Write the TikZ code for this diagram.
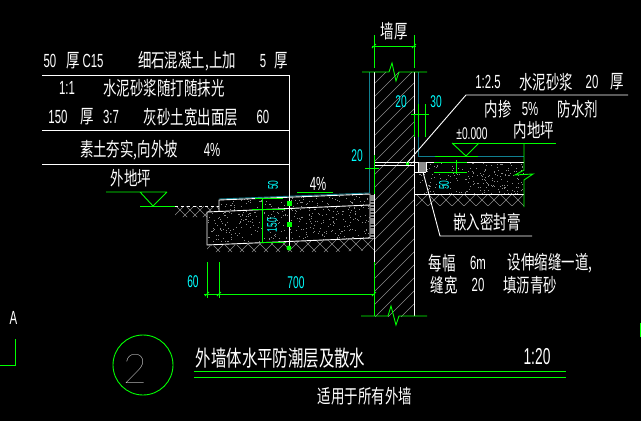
\documentclass[tikz,border=0pt]{standalone}
\usepackage{fontspec}
\setmainfont{Liberation Sans}
\newfontfamily\cjkf[FakeStretch=0.7]{Noto Sans CJK SC}
\newfontfamily\latf[FakeStretch=0.6]{Liberation Sans}
\newfontfamily\twof[UprightFont=* Thin]{Lato}
\definecolor{cadg}{RGB}{0,255,0}
\definecolor{cadt}{RGB}{16,128,144}
\definecolor{cadc}{RGB}{0,255,255}
\definecolor{cadh}{RGB}{140,140,140}
\newcommand\cn[1]{{\cjkf\fontsize{19.2}{19.2}\selectfont #1}}
\newcommand\cnt[1]{{\cjkf\fontsize{22}{22}\selectfont #1}}
\newcommand\la[1]{{\latf\fontsize{19}{19}\selectfont #1}}
\newcommand\ldim[1]{{\latf\fontsize{17}{17}\selectfont #1}}
\newcommand\lrot[1]{{\latf\fontsize{14}{14}\selectfont #1}}
\newcommand\myspeck[5]{%
  \foreach \i in {1,...,#5}{%
    \pgfmathsetmacro\px{#1+#3*rnd}%
    \pgfmathsetmacro\py{#2+#4*rnd}%
    \fill[specks] (\px,\py) rectangle +(1,1);}}
\newcommand\myhatch[3]{%
  \foreach \i in {#1,#2,...,#3}{\draw[hatchl] (\i,0) -- ++(-420,420);}}
\newcommand\myzig[4]{%
  \foreach \i in {#1,#2,...,#3}{\draw[hatchl] (\i,#4) -- ++(-20,20); \draw[hatchl] (\i,#4) -- ++(20,20);}}
\tikzset{
  wt/.style={text=white,inner sep=0pt},
  cy/.style={text=cadc,inner sep=0pt},
  gl/.style={draw=cadg,line width=0.9pt},
  wl/.style={draw=white,line width=0.9pt},
  tl/.style={draw=cadt,line width=0.9pt},
  hatchl/.style={draw=cadh,line width=0.4pt},
  specks/.style={fill=cadh},
}
\begin{document}
\begin{tikzpicture}[x=1pt,y=-1pt]
\fill[black] (0,0) rectangle (641,421);
\useasboundingbox (0,0) rectangle (641,421);
\pgfmathsetseed{42}
% wall hatching
\begin{scope}
\clip (374,72) rectangle (414,316);
\myhatch{380}{393}{900}
\end{scope}
% ground hatching
\begin{scope}
\clip (207,246) -- (370,238) -- (374,238) -- (374,250) -- (207,258) -- cycle;
\myzig{200}{212}{380}{232}
\end{scope}
\begin{scope}
\clip (175,206) -- (219,206) -- (219,211) -- (207,212) -- (207,217) -- (175,217) -- cycle;
\myzig{170}{180}{230}{200}
\end{scope}
\begin{scope}
\clip (415,195) rectangle (524,205);
\myzig{410}{422}{530}{188}
\end{scope}
% speckled concrete
\begin{scope}
\clip (219,200) -- (370,194) -- (370,238) -- (207,245) -- (207,212) -- (219,211) -- cycle;
\myspeck{207}{194}{163}{52}{480}
\end{scope}
\begin{scope}
\clip (419,162) rectangle (524,194);
\myspeck{419}{162}{105}{32}{220}
\end{scope}
% apron outline
\draw[tl] (219,199) -- (369,193);
\draw[wl] (219,211) -- (219,200) -- (370,194) -- (370,238) -- (207,245) -- (207,212) -- (370,205);
\draw[line width=4pt,draw=cadh,dash pattern=on 2.5pt off 0.8pt] (372,195) -- (372,238);
% wall
\draw[tl] (369,72) -- (369,193);
\draw[tl] (418,72) -- (418,156) -- (524,156);
\draw[wl] (374,72) -- (374,316);
\draw[wl] (414,72) -- (414,316);
\draw[gl] (362,72) -- (389,72) -- (392,63) -- (396,81) -- (399,72) -- (427,72);
\draw[gl] (361,316) -- (388,316) -- (391,306) -- (396,325) -- (399,316) -- (427,316);
% wall thickness dimension
\draw[gl] (374,35) -- (374,68) (414,35) -- (414,68) (372,46) -- (416,46);
\draw[gl] (372,48) -- (376,44) (412,48) -- (416,44);
% floor slab
\draw[wl] (415,162) -- (524,162) (415,194) -- (524,194);
\fill[cadh] (418,162) rectangle (426,172);
\draw[wl] (374,162) -- (415,162) (374,165) -- (414,165) (414,172) -- (426,172) (418,162) -- (418,172) (426,162) -- (426,172);
\fill[cadg] (405.5,161.5) rectangle (409,165);
% floor level and dims
\draw[gl] (452,143) -- (556,143);
\draw[gl] (452,143) -- (466,156) -- (479,143);
\draw[gl] (435,156) -- (478,156);
\draw[gl] (524,143) -- (524,170) -- (515,175) -- (533,174) -- (524,180) -- (524,207);
\draw[gl] (434,162) -- (467,162) (434,172) -- (467,172) (456,160) -- (456,174);
\draw[gl] (411,114) -- (429,114) (418,104) -- (418,137) (425,104) -- (425,137) (414,114) -- (414,137);
\draw[gl] (374,155) -- (374,194) (365,168) -- (379,168);
% leaders
\draw[wl] (628,95) -- (466,95) -- (407,163);
\draw[wl] (423,172) -- (440,236) -- (532,236);
% left table
\draw[wl] (42,75) -- (289,75) (42,130) -- (289,130) (42,164) -- (289,164);
\draw[wl] (289,75) -- (289,248);
\fill[cadg] (286.5,201) rectangle (291.5,206);
\fill[cadg] (286.5,222) rectangle (291.5,227);
\fill[cadg] (289,248) circle (2.5);
% outside level
\draw[gl] (106,192) -- (167,192) (140,192) -- (153,206) -- (167,192);
\draw[gl] (140,206) -- (175,206);
\draw[wl,dashed] (175,206) -- (219,206);
% apron dims
\draw[gl] (262,198) -- (262,243) (255,198) -- (283,198) (252,209) -- (285,209) (260,242) -- (285,242);
\draw[gl] (297,192) -- (333,192);
\draw[gl] (204,294) -- (374,294) (207,262) -- (207,298) (219,262) -- (219,298) (374,262) -- (374,316);
\draw[gl] (205,296) -- (209,292) (217,296) -- (221,292) (372,296) -- (376,292);
% symbol
\draw[gl] (143,365) circle (30);
\draw[gl] (15.5,339) -- (15.5,365) -- (0,365);
\draw[gl] (194,371) -- (566,371) (194,377) -- (566,377);
\draw[draw=cadg,line width=1.5pt] (640.5,323) -- (640.5,337);
% left texts
\node[wt] (a1) at (50,61) {\la{50}};
\node[wt] (a2) at (73,61) {\cn{厚}};
\node[wt] (a3) at (93,61) {\la{C15}};
\node[wt] (a4) at (187,61) {\cn{细石混凝土,上加}};
\node[wt] (a5) at (263,61) {\la{5}};
\node[wt] (a6) at (281,61) {\cn{厚}};
\node[wt] (b1) at (67,88) {\la{1:1}};
\node[wt] (b2) at (164,88) {\cn{水泥砂浆随打随抹光}};
\node[wt] (c1) at (58,117) {\la{150}};
\node[wt] (c2) at (87,117) {\cn{厚}};
\node[wt] (c3) at (111,117) {\la{3:7}};
\node[wt] (c4) at (191,117) {\cn{灰砂土宽出面层}};
\node[wt] (c5) at (263,117) {\la{60}};
\node[wt] (d1) at (129,150) {\cn{素土夯实,向外坡}};
\node[wt] (d2) at (212,150) {\la{4\%}};
\node[wt] (e1) at (131,178) {\cn{外地坪}};
% wall top
\node[wt] (f1) at (394,31) {\cn{墙厚}};
\node[cy] (f2) at (401,102) {\ldim{20}};
\node[cy] (f3) at (436,102) {\ldim{30}};
\node[cy] (f4) at (357,156) {\ldim{20}};
% right texts
\node[wt] (g1) at (488,82) {\la{1:2.5}};
\node[wt] (g2) at (546,82) {\cn{水泥砂浆}};
\node[wt] (g3) at (592,82) {\la{20}};
\node[wt] (g4) at (617,82) {\cn{厚}};
\node[wt] (h1) at (498,109) {\cn{内掺}};
\node[wt] (h2) at (530,109) {\la{5\%}};
\node[wt] (h3) at (578,109) {\cn{防水剂}};
\node[wt] (i1) at (534,130) {\cn{内地坪}};
\node[wt] (i2) at (472,134) {\ldim{±0.000}};
\node[wt] (i3) at (487,222) {\cn{嵌入密封膏}};
\node[cy,rotate=90] (i4) at (444,185) {\lrot{50}};
% apron texts
\node[cy,rotate=90] (j1) at (273,185) {\lrot{50}};
\node[cy,rotate=90] (j2) at (272,225) {\lrot{150}};
\node[wt] (j3) at (318,184) {\la{4\%}};
\node[cy] (j4) at (193,282) {\ldim{60}};
\node[cy] (j5) at (296,283) {\ldim{700}};
% note
\node[wt] (k1) at (442,263) {\cn{每幅}};
\node[wt] (k2) at (478,263) {\la{6m}};
\node[wt] (k3) at (550,263) {\cn{设伸缩缝一道,}};
\node[wt] (k4) at (444,285) {\cn{缝宽}};
\node[wt] (k5) at (478,285) {\la{20}};
\node[wt] (k6) at (530,285) {\cn{填沥青砂}};
% title
\node[wt] (m1) at (135,369) {\twof\fontsize{41}{41}\selectfont 2};
\node[wt] (m2) at (280.5,358) {\cnt{外墙体水平防潮层及散水}};
\node[wt] (m3) at (537,357) {{\latf\fontsize{23}{23}\selectfont 1:20}};
\node[wt] (m4) at (365,396) {\cn{适用于所有外墙}};
\node[wt] (m5) at (13.5,318) {\la{A}};
\end{tikzpicture}
\end{document}
